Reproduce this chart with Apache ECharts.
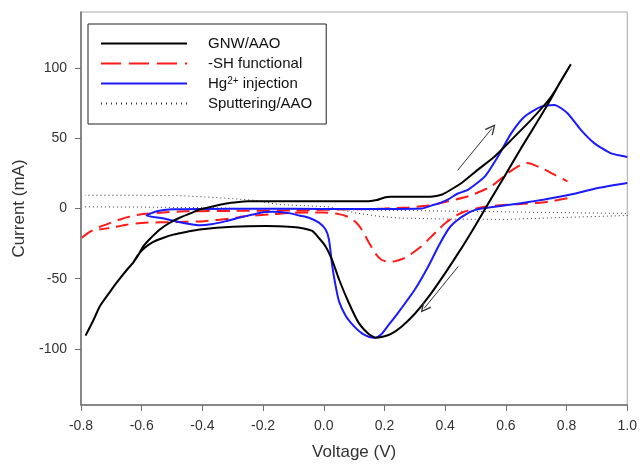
<!DOCTYPE html>
<html lang="en">

<head>
    <meta charset="UTF-8">
    <title>CV curves</title>
    <script src="https://cdn.jsdelivr.net/npm/echarts@6/dist/echarts.min.js"></script>
    <style>
        body { margin: 0; background: #fff; }
    </style>
</head>

<body>
    <div id="main" style="width: 640px;height:466px;"></div>
    <script>
        // tick values
        var xTicks = [-0.8, -0.6, -0.4, -0.2, 0, 0.2, 0.4, 0.6, 0.8, 1.0];
        var yTicks = [-100, -50, 0, 50, 100];

        // legend names
        var names = ['GNW/AAO', '-SH functional', 'Hg2+ injection', 'Sputtering/AAO'];

        // GNW/AAO  [voltage, current]
        var gnwAao = [
            [-0.785, -90.6], [-0.760, -80], [-0.737, -69.3], [-0.700, -58], [-0.682, -52.7], [-0.650, -44],
            [-0.628, -38.5], [-0.612, -33.5], [-0.595, -27], [-0.570, -21], [-0.540, -14.9], [-0.510, -10.5],
            [-0.475, -6.6], [-0.440, -3.5], [-0.409, -0.7], [-0.370, 1.3], [-0.322, 3.5], [-0.280, 4.6],
            [-0.250, 5.1], [-0.2, 5.2], [0.0, 5.2], [0.148, 5.2], [0.175, 6], [0.200, 7.8], [0.22, 8.3],
            [0.30, 8.3], [0.36, 8.6], [0.39, 10], [0.41, 12.3], [0.454, 18.2], [0.508, 27.7], [0.563, 37.1],
            [0.618, 48.9], [0.683, 63.1], [0.749, 79.6], [0.814, 102.8],
            [0.78, 90.5], [0.743, 76], [0.70, 60.5], [0.65, 43], [0.60, 24.5], [0.55, 6.5], [0.50, -12],
            [0.45, -29.5], [0.40, -46], [0.345, -63], [0.30, -75], [0.257, -84], [0.22, -89.5], [0.19, -91.5],
            [0.17, -92], [0.148, -89.4], [0.115, -81.5], [0.083, -67.5], [0.050, -50.4], [0.028, -37],
            [0.006, -27], [-0.016, -21], [-0.038, -16], [-0.07, -14], [-0.103, -13.2], [-0.19, -12.5],
            [-0.30, -13], [-0.409, -14.9], [-0.45, -16.5], [-0.496, -18.6], [-0.53, -21], [-0.562, -23.8],
            [-0.59, -28], [-0.612, -33], [-0.628, -38.5]
        ];

        // -SH functional (forward, gap, reverse)
        var shFunctional = [
            [-0.797, -20.8], [-0.77, -16.5], [-0.737, -13], [-0.70, -10], [-0.671, -7.8], [-0.64, -5.8],
            [-0.606, -4.3], [-0.56, -3.3], [-0.518, -2.6], [-0.45, -2], [-0.3, -1.7], [-0.1, -1.4],
            [0.1, -0.5], [0.2, 0], [0.28, 0.8], [0.345, 2.1], [0.41, 5.2], [0.476, 8.7], [0.552, 15.8],
            [0.607, 25.3], [0.65, 31.2], [0.672, 32.4], [0.716, 28.9], [0.76, 24.1], [0.803, 19.4],
            ['-', '-'],
            [0.803, 7.3], [0.75, 5.2], [0.705, 4], [0.66, 3.4], [0.618, 2.8], [0.541, 1.6], [0.487, -0.7],
            [0.46, -2.5], [0.432, -5.4], [0.40, -10.5], [0.378, -15], [0.345, -22], [0.323, -26.7],
            [0.279, -33.8], [0.258, -36], [0.236, -37.5], [0.214, -38], [0.19, -36.5], [0.17, -32],
            [0.148, -24], [0.125, -15], [0.104, -9.5], [0.08, -6], [0.05, -4], [0.0, -2.8], [-0.114, -3.1],
            [-0.18, -4.3], [-0.256, -5.4], [-0.306, -7.1], [-0.394, -9], [-0.481, -9.7], [-0.59, -10.1],
            [-0.65, -11.5], [-0.70, -13.7], [-0.74, -15]
        ];

        // Hg2+ injection
        var hgInjection = [
            [1.0, 18.2], [0.9, 14.5], [0.836, 11], [0.78, 8.5], [0.727, 6.4], [0.67, 4.5], [0.618, 2.8],
            [0.57, 1.5], [0.53, 0.3], [0.50, -1], [0.476, -3.1], [0.455, -6], [0.443, -7.8], [0.425, -11],
            [0.41, -14.9], [0.38, -26], [0.345, -40.9], [0.301, -57.4], [0.246, -74], [0.21, -84],
            [0.192, -89], [0.17, -92], [0.15, -91.5], [0.126, -89], [0.10, -84], [0.072, -76.4],
            [0.05, -66], [0.039, -55.1], [0.028, -41], [0.017, -22], [0.006, -15], [-0.016, -10.1],
            [-0.049, -6.6], [-0.081, -5], [-0.114, -3.3], [-0.169, -2.4], [-0.20, -2.6], [-0.234, -4.3],
            [-0.28, -6.6], [-0.322, -9], [-0.372, -11.3], [-0.409, -12], [-0.437, -11.3], [-0.481, -9.5],
            [-0.53, -7], [-0.584, -5], [-0.55, -2], [-0.50, -0.6], [-0.4, -0.3], [-0.2, -0.2], [0, -0.3],
            [0.2, -0.3], [0.323, 0], [0.36, 2.5], [0.378, 3.5], [0.41, 6.5], [0.44, 10.5], [0.476, 13.5],
            [0.531, 22.9], [0.574, 37.1], [0.618, 53.7], [0.662, 65.5], [0.716, 72.6], [0.760, 73.8],
            [0.803, 67.9], [0.847, 56], [0.891, 46.6], [0.945, 39.5], [1.0, 36.7]
        ];

        // Sputtering/AAO
        var sputtering = [
            [-0.787, 1.2], [-0.6, 1], [-0.4, 0.6], [-0.22, -0.2], [0, -0.6], [0.18, -1.2], [0.4, -1.8],
            [0.6, -2.4], [0.8, -3], [1.0, -3.5], [1.0, -5], [0.8, -6.3], [0.6, -7.8], [0.4, -7.5],
            [0.25, -6.8], [0.18, -5.5], [0.1, -3], [0.017, 1.2], [-0.147, 2.8], [-0.234, 6], [-0.3, 7],
            [-0.372, 8], [-0.48, 9.2], [-0.6, 9.4], [-0.787, 9.4]
        ];

        // scan direction arrows [from, to]
        var arrows = [
            [[0.441, 27.2], [0.554, 57.0]],
            [[0.443, -41.3], [0.331, -71.1]]
        ];

        var font = 'Liberation Sans';
        var myChart = echarts.init(document.getElementById('main'));

        var option = {
            animation: false,
            grid: {
                left: 81, right: 10, top: 12, bottom: 59,
                show: true,
                borderColor: '#a8a8a8',
                borderWidth: 1
            },
            legend: {
                orient: 'vertical',
                left: 88, top: 24,
                data: [
                    { name: names[0] },
                    { name: names[1], lineStyle: { type: [20, 8] } },
                    { name: names[2] },
                    { name: names[3], lineStyle: { type: [1, 4] } }
                ],
                padding: [12, 14, 13, 12],
                borderColor: '#222',
                borderWidth: 1,
                itemWidth: 86,
                itemHeight: 14,
                itemGap: 5,
                selectedMode: false,
                itemStyle: { opacity: 0 },
                textStyle: {
                    fontFamily: font,
                    fontSize: 15,
                    color: '#111',
                    lineHeight: 15,
                    padding: [0, 0, 0, 16],
                    rich: {
                        sup: { fontFamily: font, fontSize: 10, lineHeight: 10, verticalAlign: 'top', color: '#111' }
                    }
                },
                formatter: function (name) {
                    if (name === 'Hg2+ injection') return 'Hg{sup|2+} injection';
                    return name;
                }
            },
            xAxis: {
                type: 'value',
                min: -0.8,
                max: 1.0,
                name: 'Voltage (V)',
                nameLocation: 'middle',
                nameGap: 39,
                nameTextStyle: { fontFamily: font, fontSize: 17, color: '#333' },
                axisLine: { show: true, onZero: false, lineStyle: { color: '#6e6e6e', width: 1.5 } },
                axisTick: { show: true, length: 6, customValues: xTicks, lineStyle: { color: '#6e6e6e' } },
                axisLabel: {
                    customValues: xTicks,
                    margin: 14,
                    fontFamily: font,
                    fontSize: 14,
                    color: '#333',
                    formatter: function (v) {
                        if (Math.abs(v) < 1e-9) return '0.0';
                        return v.toFixed(1);
                    }
                },
                splitLine: { show: false }
            },
            yAxis: {
                type: 'value',
                min: -140,
                max: 140,
                name: 'Current (mA)',
                nameLocation: 'middle',
                nameGap: 53,
                nameTextStyle: { fontFamily: font, fontSize: 17, color: '#333' },
                axisLine: { show: true, onZero: false, lineStyle: { color: '#6e6e6e', width: 1.5 } },
                axisTick: { show: true, length: 6, customValues: yTicks, lineStyle: { color: '#6e6e6e' } },
                axisLabel: {
                    customValues: yTicks,
                    margin: 14,
                    fontFamily: font,
                    fontSize: 14,
                    color: '#333'
                },
                splitLine: { show: false }
            },
            series: [
                {
                    name: names[0],
                    type: 'line',
                    symbol: 'none',
                    smooth: 0.2,
                    data: gnwAao,
                    lineStyle: { color: '#000', width: 2 },
                    itemStyle: { color: '#000' },
                    z: 4,
                    markLine: {
                        silent: true,
                        symbol: ['none', 'path://M5,0 L10,9 L9,10 L5,2.6 L1,10 L0,9 Z'],
                        symbolSize: [10, 11],
                        label: { show: false },
                        lineStyle: { color: '#333', width: 1, type: 'solid' },
                        data: arrows.map(function (a) {
                            return [{ coord: a[0] }, { coord: a[1] }];
                        })
                    }
                },
                {
                    name: names[1],
                    type: 'line',
                    symbol: 'none',
                    smooth: 0.2,
                    connectNulls: false,
                    data: shFunctional,
                    lineStyle: { color: '#ff1a1a', width: 2, type: [13, 7] },
                    itemStyle: { color: '#ff1a1a' },
                    z: 3
                },
                {
                    name: names[2],
                    type: 'line',
                    symbol: 'none',
                    smooth: 0.2,
                    data: hgInjection,
                    lineStyle: { color: '#1a1aff', width: 2 },
                    itemStyle: { color: '#1a1aff' },
                    z: 3
                },
                {
                    name: names[3],
                    type: 'line',
                    symbol: 'none',
                    data: sputtering,
                    lineStyle: { color: '#333', width: 1, type: [1, 3] },
                    itemStyle: { color: '#333' },
                    z: 2
                }
            ]
        };

        myChart.setOption(option);
    </script>
</body>

</html>
